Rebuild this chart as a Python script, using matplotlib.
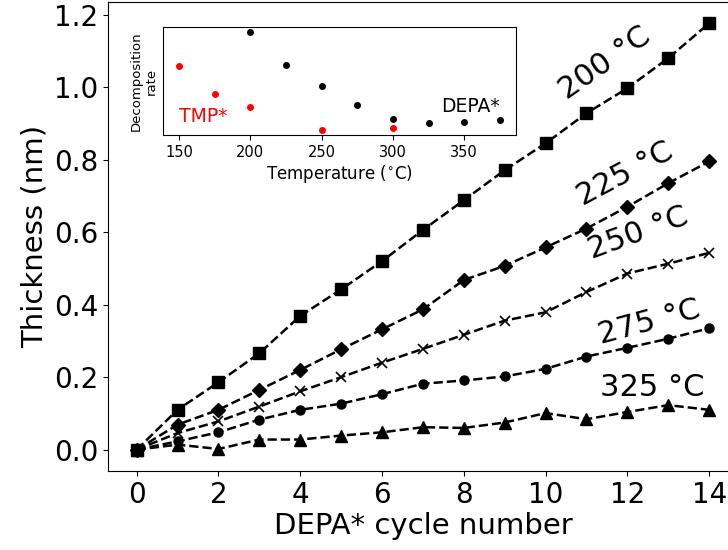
import numpy as np
from matplotlib import pyplot as plt

# main plot: film thickness vs DEPA* cycle number
cycles = np.arange(0, 15)
t200 = [0, 0.110, 0.186, 0.266, 0.369, 0.442, 0.520, 0.606, 0.688, 0.771, 0.845, 0.928, 0.997, 1.080, 1.176]
t225 = [0, 0.069, 0.110, 0.165, 0.220, 0.277, 0.332, 0.387, 0.468, 0.507, 0.558, 0.610, 0.670, 0.735, 0.795]
t250 = [0, 0.046, 0.078, 0.119, 0.161, 0.200, 0.240, 0.278, 0.317, 0.356, 0.379, 0.435, 0.486, 0.513, 0.543]
t275 = [0, 0.023, 0.048, 0.083, 0.110, 0.127, 0.153, 0.182, 0.191, 0.202, 0.223, 0.257, 0.281, 0.306, 0.335]
t325 = [0, 0.014, 0.002, 0.028, 0.028, 0.039, 0.048, 0.062, 0.060, 0.075, 0.101, 0.084, 0.104, 0.123, 0.110]

series = [t200, t225, t250, t275, t325]
markers = ['s', 'D', 'x', 'o', '^']
msizes = [8, 7, 7.5, 6.5, 8]

# temperature labels: text, x, y, rotation
labels = ['200 °C', '225 °C', '250 °C', '275 °C', '325 °C']
label_x = [11.45, 11.95, 12.27, 12.53, 12.6]
label_y = [1.065, 0.760, 0.597, 0.352, 0.171]
label_rot = [35, 28, 20, 15, 0]

# inset: decomposition rate (arb. units) vs temperature
depa_T = [200, 225, 250, 275, 300, 325, 350, 375]
depa_rate = [1.03, 0.70, 0.48, 0.29, 0.15, 0.11, 0.12, 0.14]
tmp_T = [150, 175, 200, 250, 300]
tmp_rate = [0.69, 0.40, 0.27, 0.04, 0.06]

fig = plt.figure(figsize=(7.28, 5.5), dpi=100)
ax = fig.add_axes([0.1484, 0.1436, 0.865, 0.8527])

for y, m, ms in zip(series, markers, msizes):
    ax.plot(cycles, y, 'k--', marker=m, markersize=ms, linewidth=1.8,
            markeredgewidth=1.2 if m == 'x' else 1)

for s, x, y, r in zip(labels, label_x, label_y, label_rot):
    ax.text(x, y, s, fontsize=22, rotation=r, ha='center', va='center',
            rotation_mode='anchor')

ax.set_xticks(range(0, 15, 2))
ax.set_yticks(np.arange(0, 1.21, 0.2))
ax.set_yticklabels([f"{v:.1f}" for v in np.arange(0, 1.21, 0.2)])
ax.tick_params(labelsize=20)
ax.set_xlabel("DEPA* cycle number", fontsize=21, labelpad=2)
ax.set_ylabel("Thickness (nm)", fontsize=21, labelpad=4)

# inset
axi = fig.add_axes([0.2239, 0.7545, 0.4849, 0.1964])
axi.plot(depa_T, depa_rate, 'o', color='black', markersize=4)
axi.plot(tmp_T, tmp_rate, 'o', color='red', markersize=4)
axi.text(375, 0.28, "DEPA*", fontsize=13.5, ha='right', va='center')
axi.text(150, 0.18, "TMP*", fontsize=13.5, color='red', ha='left', va='center')
axi.set_yticks([])
axi.set_xticks([150, 200, 250, 300, 350])
axi.tick_params(labelsize=10.5)
axi.set_xlabel("Temperature ($^{\\circ}$C)", fontsize=12, labelpad=2)
axi.set_ylabel("Decomposition\nrate", fontsize=9.5)

fig.savefig("out.png", dpi=100)
